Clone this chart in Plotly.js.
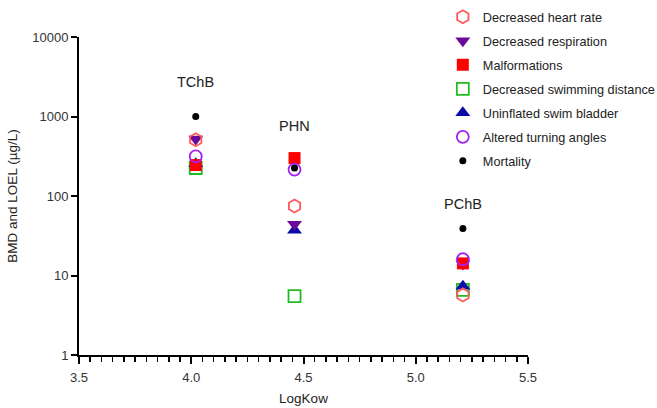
<!DOCTYPE html>
<html><head><meta charset="utf-8">
<script src="https://cdn.plot.ly/plotly-3.0.1.min.js"></script>
<style>body{margin:0;padding:0;background:#fff}#chart{width:657px;height:408px}</style>
</head><body><div id="chart"></div>
<script>
const compounds = ["TChB", "PHN", "PChB"];
const logKow = [4.02, 4.46, 5.21];
const heartRate = [510, 75, 5.7];
const respiration = [520, 44, 14];
const malformations = [245, 300, 14.2];
const swimDistance = [225, 5.5, 6.6];
const swimBladder = [255, 37, 7.3];
const turningAngles = [315, 215, 16];
const mortality = [1000, 225, 39];
const labelY = [2700, 760, 80];

// rank = legend position; array order = drawing order
const series = [
  {name: "Decreased swimming distance", rank: 4, y: swimDistance, symbol: "square-open", color: "#22bb22", size: 12, lw: 1.8},
  {name: "Uninflated swim bladder", rank: 5, y: swimBladder, symbol: "triangle-up", color: "#0a0aa8", size: 13, lw: 0},
  {name: "Decreased respiration", rank: 2, y: respiration, symbol: "triangle-down", color: "#6a0a9a", size: 13, lw: 0},
  {name: "Malformations", rank: 3, y: malformations, symbol: "square", color: "#ff0000", size: 12, lw: 0},
  {name: "Decreased heart rate", rank: 1, y: heartRate, symbol: "hexagon-open", color: "#ff5a5a", size: 13, lw: 1.8},
  {name: "Altered turning angles", rank: 6, y: turningAngles, symbol: "circle-open", color: "#a020f0", size: 12, lw: 1.8},
  {name: "Mortality", rank: 7, y: mortality, symbol: "circle", color: "#000000", size: 7, lw: 0}
];

const traces = series.map((s, i) => ({
  type: "scatter", mode: "markers", x: logKow, y: s.y, name: s.name,
  legendgroup: "g" + s.rank, legendrank: s.rank,
  marker: {symbol: s.symbol, color: s.color, size: s.size, line: {color: s.color, width: s.lw}},
  cliponaxis: false
}));

const annotations = compounds.map((c, i) => ({
  x: logKow[i], y: Math.log10(labelY[i]), xref: "x", yref: "y", text: c,
  showarrow: false, font: {family: "Liberation Sans, Arial, sans-serif", size: 14.5, color: "#222"}
}));

const layout = {
  width: 657, height: 408,
  margin: {l: 79, r: 129, t: 37, b: 53, autoexpand: false},
  paper_bgcolor: "#fff", plot_bgcolor: "#fff",
  font: {family: "Liberation Sans, Arial, sans-serif", color: "#333", size: 13},
  showlegend: true,
  legend: {xref: "container", yref: "container", x: 0.674, y: 0.995, xanchor: "left", yanchor: "top",
           traceorder: "grouped", tracegroupgap: 4.5,
           font: {size: 12.7, color: "#222"}, bgcolor: "rgba(0,0,0,0)"},
  xaxis: {range: [3.5, 5.5], tickvals: [3.5, 4.0, 4.5, 5.0, 5.5],
          ticktext: ["3.5", "4.0", "4.5", "5.0", "5.5"],
          showgrid: false, zeroline: false, showline: true, linecolor: "#000", linewidth: 2,
          ticks: "outside", ticklen: 7, tickwidth: 2, tickcolor: "#000", ticklabelstandoff: 2,
          minor: {dtick: 0.05, ticks: "outside", ticklen: 5, tickwidth: 1.5, tickcolor: "#000", showgrid: false},
          tickfont: {size: 13, color: "#333"},
          title: {text: "LogKow", font: {size: 13.5, color: "#222"}, standoff: 10}},
  yaxis: {type: "log", range: [0, 4], tickvals: [1, 10, 100, 1000, 10000],
          ticktext: ["1", "10", "100", "1000", "10000"],
          showgrid: false, zeroline: false, showline: true, linecolor: "#000", linewidth: 2,
          ticks: "outside", ticklen: 6, tickwidth: 2, tickcolor: "#000",
          tickfont: {size: 13, color: "#333"},
          title: {text: "BMD and LOEL (µg/L)", font: {size: 13.5, color: "#222"}, standoff: 12}},
  annotations: annotations
};

Plotly.newPlot("chart", traces, layout, {displayModeBar: false, staticPlot: true});
</script>
</body></html>
